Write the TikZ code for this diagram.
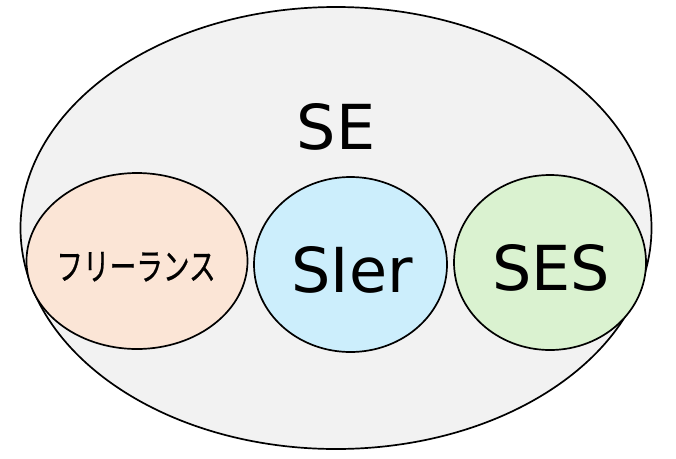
\documentclass[tikz,border=0pt]{standalone}
\usepackage{fontspec}
\setmainfont{DejaVu Sans}
\newfontfamily\jpfont[FakeStretch=0.72,FakeBold=0.6]{Noto Sans CJK JP}
\definecolor{bigfill}{HTML}{F2F2F2}
\definecolor{orfill}{HTML}{FBE5D6}
\definecolor{blfill}{HTML}{CCEEFC}
\definecolor{grfill}{HTML}{DAF2D0}
\tikzset{
  bigtxt/.style={font=\fontsize{62}{62}\selectfont, anchor=base, inner sep=0pt},
  jptxt/.style={font=\jpfont\fontsize{37}{37}\selectfont, anchor=base, inner sep=0pt}
}
\begin{document}
\begin{tikzpicture}[x=1pt,y=-1pt]
\useasboundingbox (0,0) rectangle (676,458);
\draw[fill=bigfill, line width=1.7pt] (336,228) ellipse [x radius=315.5, y radius=221];
\draw[fill=orfill, line width=1.7pt] (137,261) ellipse [x radius=110.5, y radius=88];
\draw[fill=blfill, line width=1.7pt] (350.5,264.5) ellipse [x radius=96.5, y radius=87.5];
\draw[fill=grfill, line width=1.7pt] (550,262.5) ellipse [x radius=96, y radius=87.5];
\node[bigtxt] (se) at (336,149) {SE};
\node[bigtxt] (sier) at (352,292) {SIer};
\node[bigtxt] (ses) at (551,290) {SES};
\node[jptxt] (fl) at (136,280) {フリーランス};
\end{tikzpicture}
\end{document}
